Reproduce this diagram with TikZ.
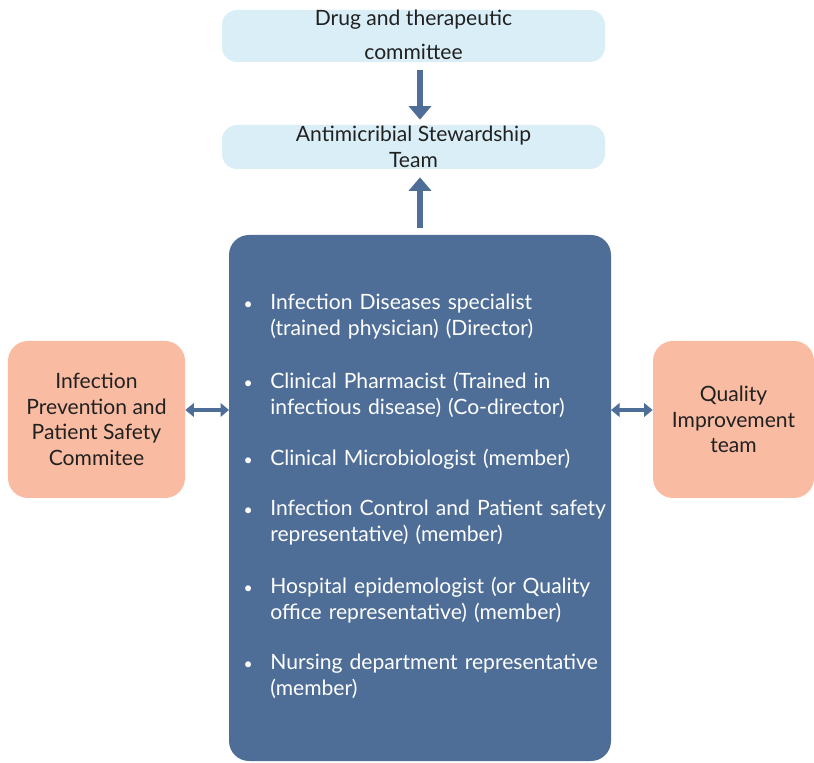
\documentclass[tikz,border=0pt]{standalone}
\usepackage{fontspec}
\setmainfont{Lato}
\usepackage{tikz}
\usetikzlibrary{positioning,arrows.meta}
\definecolor{colorcommittee} {RGB}{218,238,248}
\definecolor{colorteam}      {RGB}{78 ,110,152}
\definecolor{colorpartner}   {RGB}{249,187,162}
\definecolor{colortext}      {RGB}{33 ,33 ,33 }

\begin{document}
\begin{tikzpicture}[
    font={\fontsize{12}{14.5}\selectfont},
    base/.style={text=colortext,inner sep=0pt,align=center,rectangle,rounded corners=0.3cm},
    committee/.style={base,fill=colorcommittee,minimum width=7.66cm},
    partner/.style={base,fill=colorpartner,minimum height=3.14cm,rounded corners=0.4cm},
    member/.style={text=white,inner sep=0pt,align=left,text width=7cm,anchor=north west},
    flow/.style={colorteam,line width=0.12cm,-{Triangle[length=0.27cm,width=0.44cm]}},
    link/.style={colorteam,line width=0.07cm,{Triangle[length=0.17cm,width=0.27cm]}-{Triangle[length=0.17cm,width=0.27cm]}},
]

    \useasboundingbox (0,0) rectangle (16.28,15.24);

    \node[committee,minimum height=1.04cm] at (8.27,14.52) (dtc) {};
    \node[text=colortext,align=center,font={\fontsize{12}{19}\selectfont}] at (8.27,14.54) (dtctext) {Drug and therapeutic\\committee};
    \node[committee,minimum height=0.88cm] at (8.27,12.30) (ast) {Antimicribial Stewardship\\Team};

    \fill[colorteam,rounded corners=0.4cm] (4.58,0.02) rectangle (12.22,10.54);
    \coordinate (panel) at (8.40,10.54);
    \coordinate (panelwest) at (4.58,7.04);
    \coordinate (paneleast) at (12.22,7.04);

    \node[member] at (5.40,9.36) (m1) {\llap{\small\textbullet\hspace{0.35cm}}Infection Diseases specialist\\
    (trained physician) (Director)};
    \node[member] at (5.40,7.80) (m2) {\llap{\small\textbullet\hspace{0.35cm}}Clinical Pharmacist (Trained in\\
    infectious disease) (Co-director)};
    \node[member] at (5.40,6.26) (m3) {\llap{\small\textbullet\hspace{0.35cm}}Clinical Microbiologist (member)};
    \node[member] at (5.40,5.24) (m4) {\llap{\small\textbullet\hspace{0.35cm}}Infection Control and Patient safety\\
    representative) (member)};
    \node[member] at (5.40,3.70) (m5) {\llap{\small\textbullet\hspace{0.35cm}}Hospital epidemologist (or Quality\\
    office representative) (member)};
    \node[member] at (5.40,2.16) (m6) {\llap{\small\textbullet\hspace{0.35cm}}Nursing department representative\\
    (member)};

    \node[partner,minimum width=3.54cm] at (1.93,6.85) (ipc) {Infection\\Prevention and\\Patient Safety\\Commitee};
    \node[partner,minimum width=3.22cm] at (14.67,6.85) (qit) {Quality\\Improvement\\team};

    \draw[flow,shorten <=0.16cm,shorten >=0.10cm] (dtc.south -| panel) -- (ast.north -| panel);
    \draw[flow,shorten <=0.14cm,shorten >=0.16cm] (panel) -- (ast.south -| panel);
    \draw[link] (ipc.east |- panelwest) -- (panelwest);
    \draw[link] (paneleast) -- (qit.west |- paneleast);

\end{tikzpicture}
\end{document}
